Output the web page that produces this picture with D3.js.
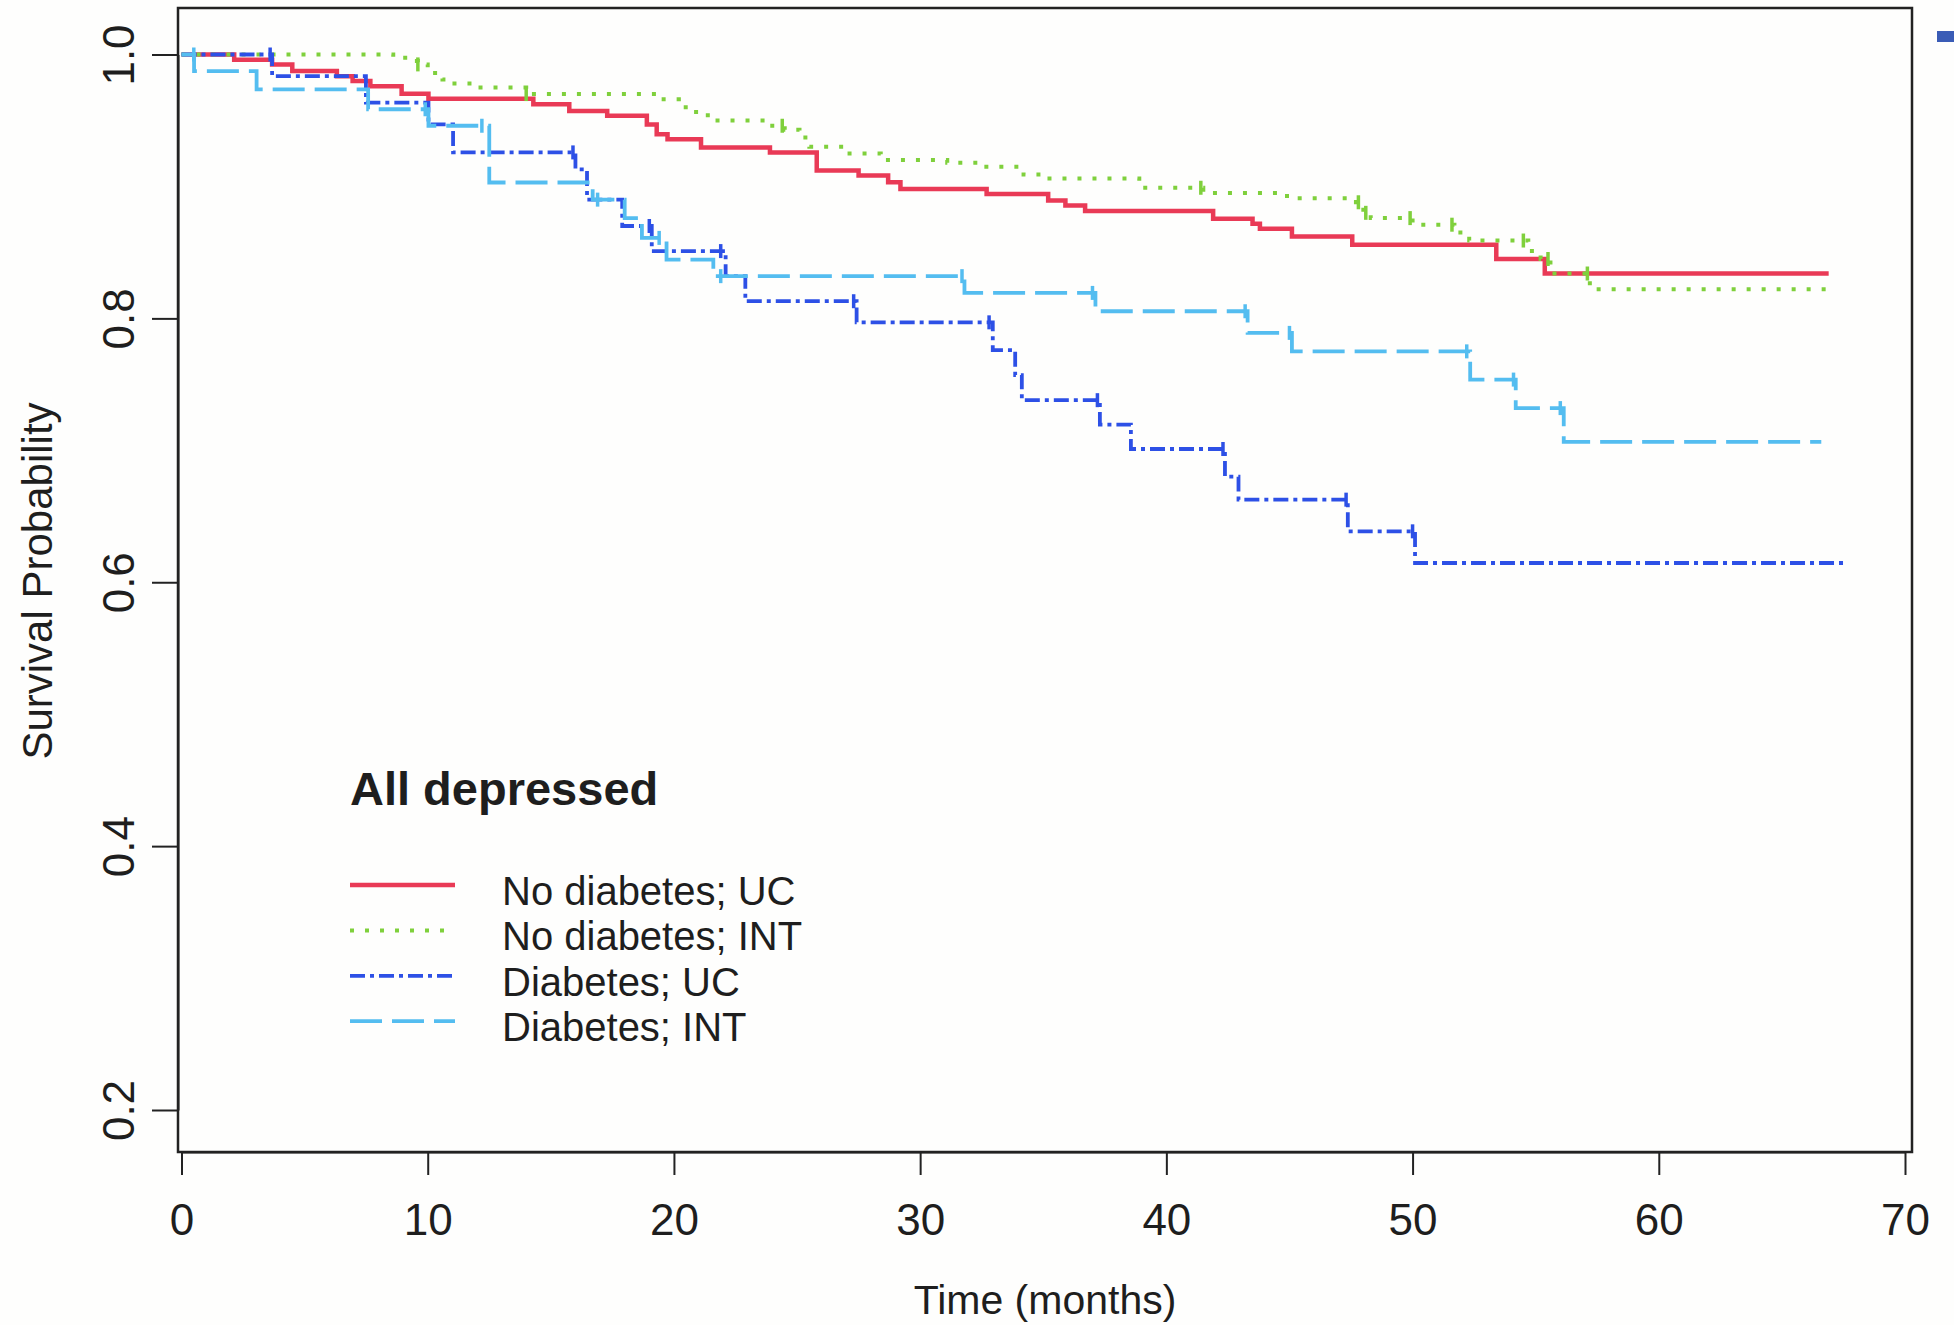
<!DOCTYPE html>
<html>
<head>
<meta charset="utf-8">
<script src="https://cdn.jsdelivr.net/npm/d3@7"></script>
<style>
  body { margin: 0; background: #fff; }
  text { font-family: "Liberation Sans", Arial, sans-serif; fill: #1e1e1e; }
</style>
</head>
<body>
<svg id="kmSVG"></svg>
<script>
var width = 1954;
var height = 1325;

// Kaplan-Meier steps: time (months) where the curve drops, survival after the drop.
// last entry is the end of follow-up (no drop)
var noDiabUcTime = [0, 2.14, 3.68, 4.5, 6.31, 6.95, 7.67, 8.94, 10.03, 14.29, 15.75, 17.29, 18.9, 19.3, 19.74, 21.1, 23.9, 25.8, 27.5, 28.7, 29.2, 32.7, 35.2, 35.9, 36.7, 41.9, 43.5, 43.8, 45.1, 47.55, 53.4, 55.37, 66.9];
var noDiabUcSurv = [1.0, 0.996, 0.9925, 0.9874, 0.9836, 0.98, 0.976, 0.9703, 0.9665, 0.9623, 0.9572, 0.9535, 0.947, 0.9396, 0.9358, 0.9296, 0.9258, 0.912, 0.9082, 0.9031, 0.8981, 0.8943, 0.8893, 0.8855, 0.8813, 0.8755, 0.8717, 0.868, 0.8621, 0.8558, 0.845, 0.834, 0.834];

var noDiabIntTime = [0, 8.6, 9.2, 9.6, 10.0, 10.3, 10.6, 10.9, 11.8, 14.0, 19.3, 20.2, 20.9, 21.6, 23.6, 24.5, 25.1, 25.5, 27.0, 28.4, 31.1, 32.4, 34.2, 35.0, 38.9, 41.5, 44.9, 47.7, 48.0, 48.3, 50.0, 51.7, 52.3, 54.7, 55.2, 55.6, 57.2, 67.05];
var noDiabIntSurv = [1.0, 0.9975, 0.995, 0.9925, 0.988, 0.984, 0.981, 0.978, 0.975, 0.97, 0.966, 0.96, 0.954, 0.95, 0.946, 0.943, 0.937, 0.93, 0.925, 0.92, 0.918, 0.915, 0.909, 0.906, 0.899, 0.895, 0.891, 0.888, 0.88, 0.876, 0.871, 0.865, 0.859, 0.851, 0.845, 0.834, 0.822, 0.822];

var diabUcTime = [0, 3.68, 7.49, 10.03, 11.03, 16.0, 16.47, 17.9, 19.1, 22.1, 22.9, 27.42, 32.95, 33.86, 34.13, 37.3, 38.56, 42.38, 42.93, 47.37, 50.1, 67.56];
var diabUcSurv = [1.0, 0.9836, 0.9635, 0.947, 0.9258, 0.913, 0.89, 0.87, 0.851, 0.832, 0.813, 0.797, 0.776, 0.757, 0.738, 0.7195, 0.701, 0.68, 0.6626, 0.6386, 0.6146, 0.6146];

var diabIntTime = [0, 0.51, 3.05, 7.58, 10.03, 12.5, 16.7, 18.0, 18.7, 19.7, 21.6, 31.8, 37.12, 43.3, 45.1, 52.34, 54.19, 56.14, 66.6];
var diabIntSurv = [1.0, 0.9874, 0.9736, 0.9585, 0.946, 0.903, 0.89, 0.876, 0.861, 0.8446, 0.832, 0.8193, 0.8054, 0.789, 0.775, 0.7536, 0.732, 0.7064, 0.7064];

// censoring marks (months)
var noDiabUcCens = [];
var noDiabIntCens = [9.6, 14.0, 24.4, 41.4, 47.8, 48.1, 49.9, 51.6, 54.5, 55.5, 57.1];
var diabUcCens = [3.6, 15.9, 19.0, 21.9, 27.3, 32.8, 37.2, 42.3, 47.3, 50.0];
var diabIntCens = [0.5, 9.9, 12.2, 16.9, 19.4, 21.9, 31.7, 37.0, 43.2, 45.0, 52.2, 54.1, 56.0];

var seriesNames = ['No diabetes; UC', 'No diabetes; INT', 'Diabetes; UC', 'Diabetes; INT'];
var legendTitle = 'All depressed';

var xTicks = [0, 10, 20, 30, 40, 50, 60, 70];
var yTicks = [0.2, 0.4, 0.6, 0.8, 1.0];

var svg = d3.select('#kmSVG').attr('width', width).attr('height', height);

svg.append('rect').attr('width', width).attr('height', height).attr('fill', '#fefefd');

// plot frame (pixels)
var frameL = 178, frameR = 1912, frameT = 8, frameB = 1152;

var x = d3.scaleLinear().domain([0, 70]).range([181.5, 1905]);
var y = d3.scaleLinear().domain([0.2, 1.0]).range([1110, 54.5]);

var series = [
  { name: seriesNames[0], t: noDiabUcTime, s: noDiabUcSurv, cens: noDiabUcCens, color: '#e93a56', dash: null, w: 4.5 },
  { name: seriesNames[1], t: noDiabIntTime, s: noDiabIntSurv, cens: noDiabIntCens, color: '#7fd03c', dash: '4,11', w: 4 },
  { name: seriesNames[2], t: diabUcTime, s: diabUcSurv, cens: diabUcCens, color: '#2d50e6', dash: '15,5,4,5', w: 3.8 },
  { name: seriesNames[3], t: diabIntTime, s: diabIntSurv, cens: diabIntCens, color: '#54bdf0', dash: '32,10', w: 3.8 }
];

function survAt(d, t) {
  var v = d.s[0];
  for (var i = 0; i < d.t.length; i++) {
    if (d.t[i] <= t) v = d.s[i];
  }
  return v;
}

var line = d3.line()
  .x(function(p) { return x(p[0]); })
  .y(function(p) { return y(p[1]); })
  .curve(d3.curveStepAfter);

var curves = svg.append('g').attr('id', 'curves');

series.forEach(function(d) {
  var pts = d.t.map(function(t, i) { return [t, d.s[i]]; });
  curves.append('path')
    .attr('d', line(pts))
    .attr('fill', 'none')
    .attr('stroke', d.color)
    .attr('stroke-width', d.w)
    .attr('stroke-dasharray', d.dash);

  // little + marks for censored patients
  curves.selectAll(null)
    .data(d.cens)
    .enter()
    .append('line')
    .attr('x1', function(c) { return x(c); })
    .attr('x2', function(c) { return x(c); })
    .attr('y1', function(c) { return y(survAt(d, c)) - 7; })
    .attr('y2', function(c) { return y(survAt(d, c)) + 7; })
    .attr('stroke', d.color)
    .attr('stroke-width', 3.5);
});

// box
svg.append('rect')
  .attr('x', frameL).attr('y', frameT)
  .attr('width', frameR - frameL).attr('height', frameB - frameT)
  .attr('fill', 'none').attr('stroke', '#222').attr('stroke-width', 2.5);

var xAxis = svg.append('g')
  .attr('transform', 'translate(0,' + frameB + ')')
  .call(d3.axisBottom(x).tickValues(xTicks).tickSize(23).tickSizeOuter(0).tickFormat(d3.format('d')));

var yAxis = svg.append('g')
  .attr('transform', 'translate(' + frameL + ',0)')
  .call(d3.axisLeft(y).tickValues(yTicks).tickSize(26).tickSizeOuter(0).tickFormat(d3.format('.1f')));

[xAxis, yAxis].forEach(function(ax) {
  ax.select('.domain').attr('stroke', '#222').attr('stroke-width', 2);
  ax.selectAll('.tick line').attr('stroke', '#222').attr('stroke-width', 2);
  ax.selectAll('.tick text').attr('fill', '#1e1e1e').style('font-size', '44px');
});

xAxis.selectAll('.tick text').attr('y', 83).attr('dy', 0);

// R style: y labels parallel to the axis
yAxis.selectAll('.tick text')
  .attr('transform', 'rotate(-90)')
  .attr('x', 0)
  .attr('y', -44)
  .attr('dy', 0)
  .attr('text-anchor', 'middle');

svg.append('text')
  .attr('x', (frameL + frameR) / 2)
  .attr('y', 1314)
  .attr('text-anchor', 'middle')
  .style('font-size', '41px')
  .text('Time (months)');

svg.append('text')
  .attr('transform', 'translate(52,581) rotate(-90)')
  .attr('text-anchor', 'middle')
  .style('font-size', '42px')
  .text('Survival Probability');

// legend
var legend = svg.append('g').attr('id', 'legendG');

legend.append('text')
  .attr('x', 350).attr('y', 805)
  .style('font-size', '47px')
  .style('font-weight', 'bold')
  .attr('fill', '#111')
  .text(legendTitle);

var rowGap = 45.4;

series.forEach(function(d, i) {
  var base = 905 + i * rowGap;
  legend.append('line')
    .attr('x1', 350).attr('x2', 455)
    .attr('y1', base - 20).attr('y2', base - 20)
    .attr('stroke', d.color)
    .attr('stroke-width', d.w)
    .attr('stroke-dasharray', d.dash);
  legend.append('text')
    .attr('x', 502).attr('y', base)
    .style('font-size', '40px')
    .text(d.name);
});

// corner of the slide template, top right
svg.append('rect')
  .attr('x', 1937).attr('y', 31).attr('width', 17).attr('height', 11)
  .attr('fill', '#3a5cb6');
</script>
</body>
</html>
